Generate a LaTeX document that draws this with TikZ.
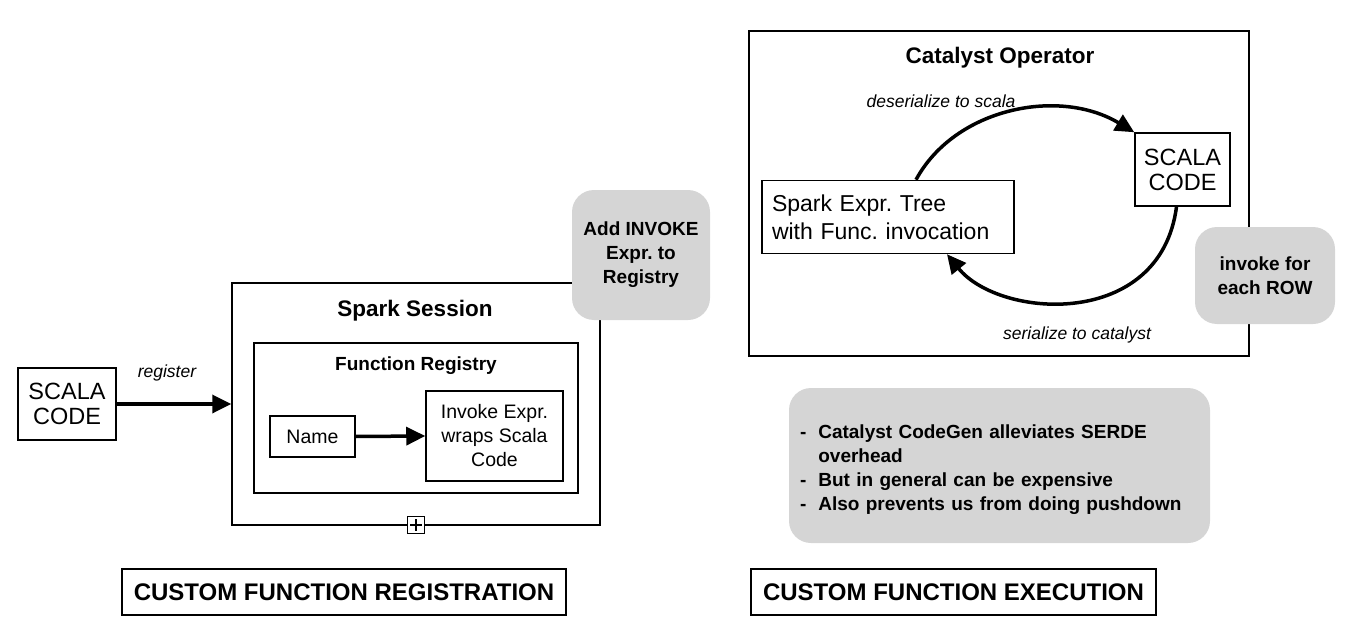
\documentclass[tikz,border=0pt]{standalone}
\usepackage{fontspec}
\setmainfont{Liberation Sans}
\usetikzlibrary{arrows.meta,calc}
\definecolor{notegray}{RGB}{213,213,213}
\frenchspacing
\tikzset{
	box/.style={draw, line width=1.5pt, inner sep=0pt, align=center},
	graybox/.style={fill=notegray, rounded corners=22pt, inner sep=0pt, align=center,
		font=\fontsize{19}{24}\selectfont\bfseries},
	bigtext/.style={font=\fontsize{23.5}{25}\selectfont},
	midtext/.style={font=\fontsize{19.5}{24}\selectfont},
	boxtitle/.style={font=\fontsize{22.5}{24}\selectfont\bfseries},
	edgelabel/.style={font=\fontsize{17.5}{18}\selectfont\itshape},
	thickarrow/.style={line width=3.5pt, -{Triangle[length=19pt,width=18pt]}},
	caption/.style={box, font=\fontsize{24}{26}\selectfont\bfseries}
}
\begin{document}
\begin{tikzpicture}[x=1pt,y=-1pt]
		
		\useasboundingbox (0,0) rectangle (1350,634);
		
		%Registration side
		\node[box, bigtext, minimum width=98pt, minimum height=72pt] (scalaleft) at (67,404) {SCALA\\CODE};
		\node[box, minimum width=368pt, minimum height=242pt] (session) at (416,404) {};
		\node[boxtitle] (sessiontitle) at (415,311) {Spark Session};
		\node[box, minimum width=324pt, minimum height=150pt] (registry) at (416,418) {};
		\node[font=\fontsize{19}{24}\selectfont\bfseries] (registrytitle) at (416,366) {Function Registry};
		\node[box, midtext, minimum width=85pt, minimum height=41pt] (name) at (312.5,436.5) {Name};
		\node[box, midtext, minimum width=137pt, minimum height=90pt] (invoke) at (494.5,436) {Invoke Expr.\\wraps Scala\\Code};
		\node[box, fill=white, line width=1.2pt, minimum size=17pt] (plus) at (416,525) {};
		\draw[line width=1.2pt] ($(plus)+(0,-6)$) -- ($(plus)+(0,6)$);
		\draw[line width=1.2pt] ($(plus)+(-6,0)$) -- ($(plus)+(6,0)$);
		
		\draw[thickarrow] (scalaleft.east) -- (session.west) node[midway, above=18pt, xshift=-7pt, edgelabel]{register};
		\draw[thickarrow] (name.east) -- (invoke.west);
		
		\node[graybox, minimum width=138pt, minimum height=130pt] (addinvoke) at (641,255) {Add INVOKE\\Expr. to\\Registry};
		\node[caption, minimum width=444pt, minimum height=46pt] (regcaption) at (344,592) {CUSTOM FUNCTION REGISTRATION};
		
		%Execution side
		\node[box, minimum width=500pt, minimum height=325pt] (catalyst) at (999,193.5) {};
		\node[boxtitle] (catalysttitle) at (1000,58) {Catalyst Operator};
		\node[box, align=left, text width=232pt, font=\fontsize{23}{28}\selectfont, minimum width=252pt, minimum height=73pt] (exprtree) at (888,217) {Spark Expr. Tree\\with Func. invocation};
		\node[box, bigtext, minimum width=95pt, minimum height=73pt] (scalaright) at (1182.5,169.5) {SCALA\\CODE};
		
		\draw[thickarrow] ($(exprtree.north)+(28,0)$) .. controls +(39,-72) and +(-75,-45) .. (scalaright.north west);
		\draw[thickarrow] ($(scalaright.south)+(-6,0)$) .. controls +(-16,123) and +(53,65) .. ($(exprtree.south)+(59,0)$);
		\node[edgelabel] (deserlabel) at (941,101) {deserialize to scala};
		\node[edgelabel] (serlabel) at (1077,335) {serialize to catalyst};
		
		\node[graybox, minimum width=140pt, minimum height=97pt] (invokerow) at (1265,275.5) {invoke for\\each ROW};
		\node[graybox, align=left, text width=399pt, inner xsep=11pt, minimum height=155pt] (notes) at (999.5,465.5) {%
			\begin{tabular}{@{}l@{\hspace{12pt}}l@{}}
				\rule{0pt}{26pt}- & Catalyst CodeGen alleviates SERDE\\
				  & overhead\\
				- & But in general can be expensive\\
				- & Also prevents us from doing pushdown
			\end{tabular}};
		\node[caption, minimum width=405pt, minimum height=46pt] (execcaption) at (953.5,592) {CUSTOM FUNCTION EXECUTION};
		
\end{tikzpicture}
\end{document}
